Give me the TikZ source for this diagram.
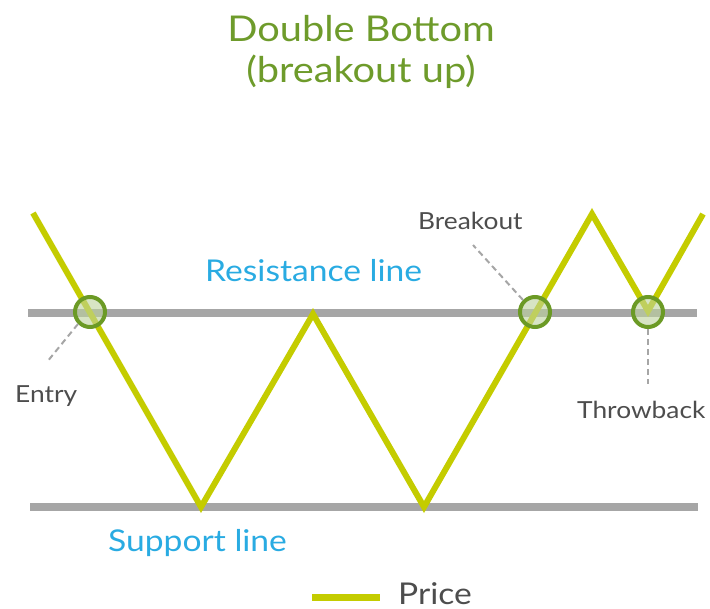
\documentclass[tikz,border=0pt]{standalone}
\usepackage{fontspec}
\setmainfont{Lato}[FakeStretch=1.12]
\definecolor{titlegreen}{HTML}{6E9B2B}
\definecolor{blueish}{HTML}{29ABE2}
\definecolor{txtgray}{HTML}{4D4D4D}
\definecolor{linegray}{HTML}{A6A6A6}
\definecolor{pricecol}{HTML}{C4CC00}
\definecolor{ringgreen}{HTML}{6B9A25}
\tikzset{
  level/.style={draw=linegray, line width=8pt},
  price/.style={draw=pricecol, line width=6pt, line join=miter},
  ring/.style={circle, draw=ringgreen, line width=4pt, fill=ringgreen!45!white, fill opacity=0.6, minimum size=30pt, inner sep=0pt},
  leader/.style={draw=linegray, line width=2pt, dash pattern=on 6pt off 4pt},
  lbl/.style={text=txtgray, font=\fontsize{23.5}{27}\selectfont, inner sep=0pt},
  bluelbl/.style={text=blueish, font=\fontsize{30}{34}\selectfont, inner sep=0pt},
  titlestyle/.style={text=titlegreen, font=\fontsize{35.5}{41}\selectfont, inner sep=0pt, anchor=base},
}
\begin{document}
\begin{tikzpicture}[x=1pt,y=-1pt]
\useasboundingbox (0,0) rectangle (710,609);
% title
\node[titlestyle] (title1) at (361,42) {Double Bottom};
\node[titlestyle] (title2) at (361,83) {(breakout up)};
% levels
\coordinate (r1) at (28,313); \coordinate (r2) at (697,313);
\coordinate (s1) at (30,507); \coordinate (s2) at (698,507);
\draw[level] (r1) -- (r2);
\draw[level] (s1) -- (s2);
% price
\coordinate (p0) at (33,213);
\coordinate (p1) at (201,507);
\coordinate (p2) at (313,314);
\coordinate (p3) at (424,507);
\coordinate (p4) at (592,214);
\coordinate (p5) at (648,311);
\coordinate (p6) at (703,214);
\draw[price] (p0) -- (p1) -- (p2) -- (p3) -- (p4) -- (p5) -- (p6);
% rings
\node[ring] (entry) at (90,312) {};
\node[ring] (brk) at (535,312) {};
\node[ring] (thr) at (648,312) {};
% leaders
\coordinate (le) at (47,362);
\coordinate (lb) at (473,245);
\coordinate (lt) at (648,384);
\draw[leader] (entry.-135) -- (le);
\draw[leader] (brk.135) -- (lb);
\draw[leader] (thr.south) -- (lt);
% labels
\node[lbl, anchor=base west] (entrylbl) at (15,403) {Entry};
\node[lbl, anchor=base west] (brklbl) at (418,230) {Breakout};
\node[lbl, anchor=base west] (thrlbl) at (577,419) {Throwback};
\node[bluelbl, anchor=base west] (reslbl) at (205,282) {Resistance line};
\node[bluelbl, anchor=base west] (suplbl) at (108,551) {Support line};
% legend
\coordinate (lg1) at (312,597); \coordinate (lg2) at (380,597);
\draw[draw=pricecol, line width=7pt] (lg1) -- (lg2);
\node[text=txtgray, font=\fontsize{30}{34}\selectfont, inner sep=0pt, anchor=base west] (pricelbl) at (398,604) {Price};
\end{tikzpicture}
\end{document}
